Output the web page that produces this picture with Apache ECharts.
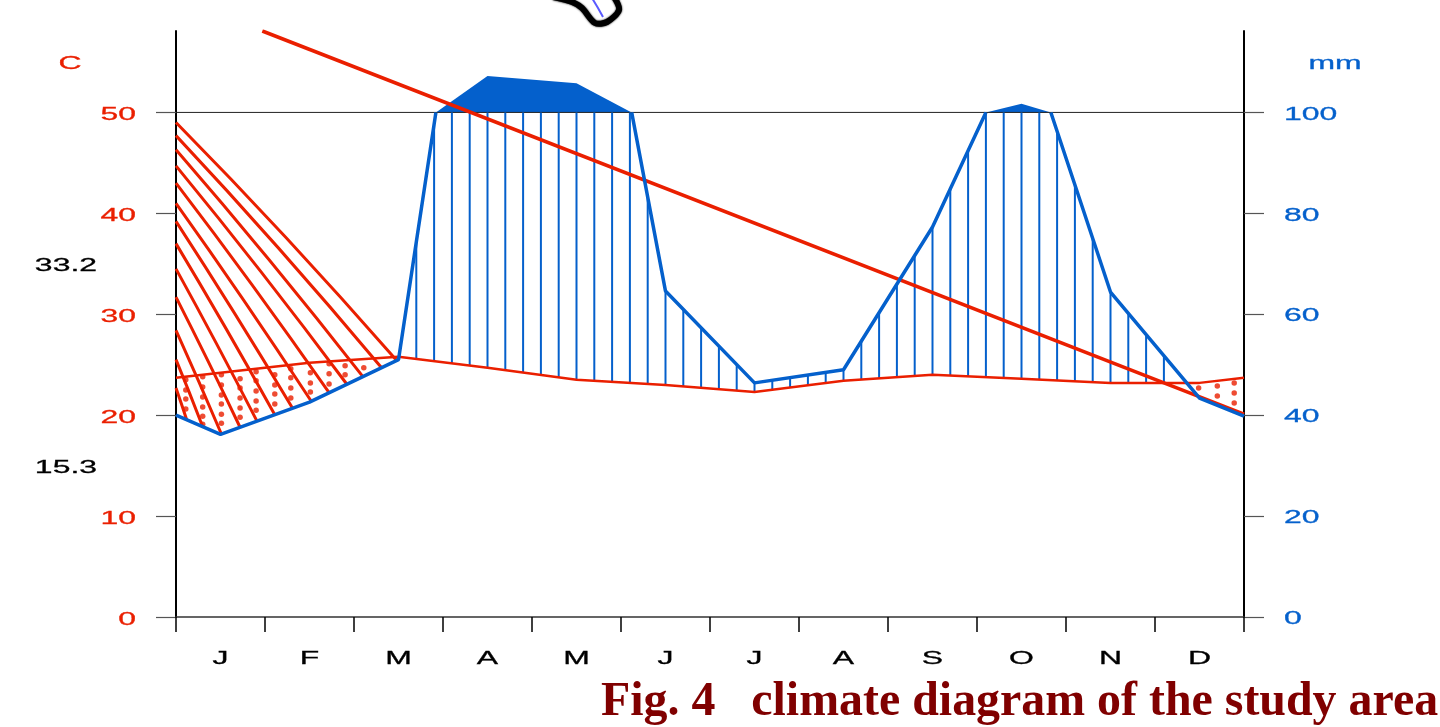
<!DOCTYPE html>
<html>
<head>
<meta charset="utf-8">
<style>html,body{margin:0;padding:0;background:#fff}#c{width:1440px;height:727px}</style>
<script src="https://cdn.jsdelivr.net/npm/echarts@6/dist/echarts.min.js"></script>
</head>
<body>
<div id="c"></div>
<script>
const monthLabels = ['J','F','M','A','M','J','J','A','S','O','N','D'];
const tempTicks = [0,10,20,30,40,50];
const rainTicks = [0,20,40,60,80,100];
const tempMonths = [0,0.5,1.5,2.5,3.5,4.5,5.5,6.5,7.5,8.5,9.5,10.5,11.5,12];
const tempValues = [23.7,24.2,25.2,25.8,24.7,23.5,23.0,22.3,23.4,24.0,23.6,23.2,23.2,23.7];
const rainMonths = [0,0.5,1.5,2.5,2.92,3.5,4.5,5.12,5.5,6.5,7.5,8.5,9.1,9.5,9.83,10.5,11.5,12];
const rainValues = [40,36.2,42.6,51,100,107.2,105.8,100,64.6,46.4,49,77.3,100,101.7,100,64.4,43.4,39.8];
const trendMonths = [0.97,12];
const trendValues = [58.07,20.1];
const rainHatchMonths = [2.7,2.9,3.1,3.3,3.5,3.7,3.9,4.1,4.3,4.5,4.7,4.9,5.1,5.3,5.5,5.7,5.9,6.1,6.3,6.5,6.7,6.9,7.1,7.3,7.5,7.7,7.9,8.1,8.3,8.5,8.7,8.9,9.1,9.3,9.5,9.7,9.9,10.1,10.3,10.5,10.7,10.9,11.1];
const dryHatchStarts = [49,47.7,46.3,44.7,43,41,39.2,37,34.5,31.7,28.4,25.5,22.7];
const dryHatchEnds = [2.48,2.31,2.1,1.92,1.72,1.52,1.31,1.11,0.91,0.72,0.51,0.3,0.12];
const dotMonths = [0.11,0.3,0.51,0.72,0.9,1.11,1.29,1.51,1.72,1.9,2.11,11.49,11.7,11.89];
const dotTemps = [
  [23.5,22.5,21.6,20.6],
  [23.8,22.8,21.8,20.8,19.9,19.1],
  [24.0,23.0,22.0,21.1,20.1,19.2],
  [23.6,22.7,21.7,20.7,19.8],
  [24.3,23.4,22.4,21.4,20.5],
  [24.0,23.0,22.1,21.1],
  [24.6,23.7,22.7,21.7],
  [24.2,23.2,22.3],
  [25.1,24.1,23.1],
  [24.9,24.0],
  [24.7],
  [22.7],
  [22.9,21.9],
  [23.2,22.2,21.2]
];
const RED = '#ea1f00', BLUE = '#0460cc', STRETCH = 1.68, FS = 19;
const pairs = (xs, ys) => xs.map((x, i) => [x, ys[i]]);
function at(xs, ys, x) {
  for (let i = 1; i < xs.length; i++) {
    if (x <= xs[i]) {
      const t = (x - xs[i-1]) / (xs[i] - xs[i-1]);
      return ys[i-1] + t * (ys[i] - ys[i-1]);
    }
  }
  return ys[ys.length-1];
}
const runs = [];
let cur = null;
rainValues.forEach((v, i) => {
  if (v >= 100) { (cur = cur || []).push([rainMonths[i], v]); }
  else if (cur) { runs.push(cur); cur = null; }
});
const base = {animation:false, silent:true};
const wideText = (txt, x, y, fill, align) => ({
  type:'text', x, y, scaleX:STRETCH,
  style:{text:txt, x:0, y:0, align:align||'center', verticalAlign:'middle',
         fill, stroke:fill, lineWidth:0.3, font:FS+'px "Liberation Sans"'}
});
const option = {
  backgroundColor:'#fff',
  grid:{left:176, top:31, width:1068, height:586, containLabel:false},
  xAxis:{type:'value', min:0, max:12, interval:1,
    axisLine:{show:true, onZero:false, lineStyle:{color:'#333', width:1.5}},
    axisTick:{show:true, length:15, lineStyle:{color:'#000', width:1.5}},
    axisLabel:{show:false}, splitLine:{show:false}},
  yAxis:[
    {type:'value', min:0, max:58.07, position:'left',
      axisLine:{show:true, onZero:false, lineStyle:{color:'#000', width:2}},
      axisTick:{show:true, length:20, customValues:tempTicks, lineStyle:{color:'#555', width:1.2}},
      axisLabel:{show:false}, splitLine:{show:false}},
    {type:'value', min:0, max:116.14, position:'right',
      axisLine:{show:true, onZero:false, lineStyle:{color:'#000', width:2}},
      axisTick:{show:true, length:20, customValues:rainTicks, lineStyle:{color:'#555', width:1.2}},
      axisLabel:{show:false}, splitLine:{show:false}}
  ],
  graphic:[
    wideText('C', 70, 64, RED),
    wideText('mm', 1335, 64, BLUE),
    wideText('33.2', 97, 266, '#000', 'right'),
    wideText('15.3', 97, 468, '#000', 'right'),
    {type:'text', left:601, top:679, style:{text:'Fig. 4   climate diagram of the study area',
      fill:'#800000', font:'bold 47.9px "Liberation Serif"'}},
    {type:'polyline', shape:{points:[[553,-3],[572,2],[582,8],[595,23],[607,22],[619,10],[614,-3]], smooth:0.3},
      style:{stroke:'#000', lineWidth:6, fill:'#fff', lineJoin:'round', shadowBlur:2, shadowColor:'#000'}},
    {type:'polyline', shape:{points:[[592,-2],[598,8],[603,17]]},
      style:{stroke:'#5a5aff', lineWidth:2, fill:null}}
  ],
  series:[
    Object.assign({}, base, {type:'custom', xAxisIndex:0, yAxisIndex:1, z:1, data:runs.map((r,i)=>i),
      renderItem:(p, api)=>({type:'polygon', shape:{points:runs[p.dataIndex].map(d=>api.coord(d))}, style:{fill:BLUE}})}),
    Object.assign({}, base, {type:'line', xAxisIndex:0, yAxisIndex:0, z:1, symbol:'none',
      data:[[0,50],[12,50]], lineStyle:{color:'#222', width:1}}),
    Object.assign({}, base, {type:'custom', xAxisIndex:0, yAxisIndex:1, z:2, data:rainHatchMonths,
      renderItem:(p, api)=>{
        const m = rainHatchMonths[p.dataIndex];
        const a = api.coord([m, at(tempMonths,tempValues,m)*2]);
        const b = api.coord([m, Math.min(100, at(rainMonths,rainValues,m))]);
        return {type:'line', shape:{x1:a[0],y1:a[1],x2:b[0],y2:b[1]}, style:{stroke:BLUE, lineWidth:2}};
      }}),
    Object.assign({}, base, {type:'custom', xAxisIndex:0, yAxisIndex:0, z:2, data:dryHatchStarts,
      renderItem:(p, api)=>{
        const i = p.dataIndex, m = dryHatchEnds[i];
        const s = dryHatchStarts[i], e = at(rainMonths,rainValues,m)/2;
        const a = api.coord([0, s]);
        const b = api.coord([m, e]);
        const c = api.coord([m/2, (s+e)/2 + 0.7*(1-i/13)]);
        return {type:'bezierCurve', shape:{x1:a[0],y1:a[1],x2:b[0],y2:b[1],cpx1:c[0],cpy1:c[1]},
          style:{stroke:RED, lineWidth:3, fill:null}};
      }}),
    Object.assign({}, base, {type:'scatter', xAxisIndex:0, yAxisIndex:0, z:2, symbol:'circle', symbolSize:5.5,
      itemStyle:{color:RED},
      data:dotMonths.flatMap((m,i)=>dotTemps[i].map(t=>[m,t]))}),
    Object.assign({}, base, {type:'line', xAxisIndex:0, yAxisIndex:0, z:3, symbol:'none',
      data:pairs(tempMonths,tempValues), lineStyle:{color:RED, width:2.5}}),
    Object.assign({}, base, {type:'line', xAxisIndex:0, yAxisIndex:0, z:3, symbol:'none',
      data:pairs(trendMonths,trendValues), lineStyle:{color:RED, width:3.5}}),
    Object.assign({}, base, {type:'line', xAxisIndex:0, yAxisIndex:1, z:4, symbol:'none',
      data:pairs(rainMonths,rainValues.map(v=>v>100?null:v)), lineStyle:{color:BLUE, width:3.5}}),
    Object.assign({}, base, {type:'custom', xAxisIndex:0, yAxisIndex:0, z:5, data:tempTicks,
      renderItem:(p, api)=>{const c=api.coord([0,tempTicks[p.dataIndex]]);
        return wideText(String(tempTicks[p.dataIndex]), c[0]-40, c[1]+2.5, RED, 'right');}}),
    Object.assign({}, base, {type:'custom', xAxisIndex:0, yAxisIndex:1, z:5, data:rainTicks,
      renderItem:(p, api)=>{const c=api.coord([12,rainTicks[p.dataIndex]]);
        return wideText(String(rainTicks[p.dataIndex]), c[0]+40, c[1]+2, BLUE, 'left');}}),
    Object.assign({}, base, {type:'custom', xAxisIndex:0, yAxisIndex:0, z:5, data:monthLabels,
      renderItem:(p, api)=>{const c=api.coord([p.dataIndex+0.5,0]);
        return wideText(monthLabels[p.dataIndex], c[0], c[1]+42, '#000');}})
  ]
};
echarts.init(document.getElementById('c')).setOption(option);
</script>
</body>
</html>
